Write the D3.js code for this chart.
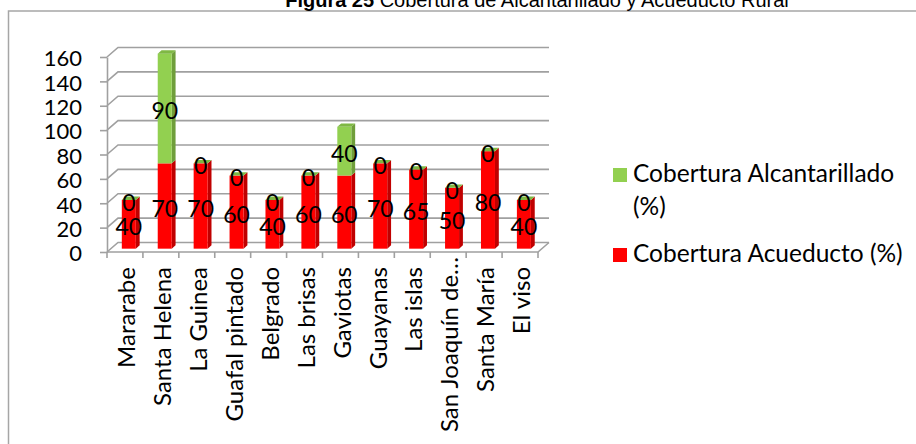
<!DOCTYPE html>
<html>
<head>
<meta charset="utf-8">
<script src="https://cdn.jsdelivr.net/npm/d3@7/dist/d3.min.js"></script>
<style>
  body { margin: 0; background: #fff; }
  svg { display: block; }
</style>
</head>
<body>
<svg id="chart" width="916" height="444"></svg>
<script>
// datos
const categories = ["Mararabe", "Santa Helena", "La Guinea", "Guafal pintado", "Belgrado", "Las brisas",
    "Gaviotas", "Guayanas", "Las islas", "San Joaquín de…", "Santa María", "El viso"];
const acueducto = [40, 70, 70, 60, 40, 60, 60, 70, 65, 50, 80, 40];
const alcantarillado = [0, 90, 0, 0, 0, 0, 40, 0, 0, 0, 0, 0];
const yTicks = [0, 20, 40, 60, 80, 100, 120, 140, 160];
const seriesNames = ["Cobertura Alcantarillado (%)", "Cobertura Acueducto (%)"];

const svg = d3.select("#chart");
const font = "Lato, 'Noto Sans', sans-serif";

// marco del grafico
svg.append("path")
    .attr("d", "M 8.5 460 L 8.5 11 L 930 11")
    .attr("fill", "none")
    .attr("stroke", "#a6a6a6")
    .attr("stroke-width", 1.5);

// titulo (cortado arriba como en el original)
let title = svg.append("text")
    .attr("x", 537)
    .attr("y", 6.5)
    .attr("text-anchor", "middle")
    .attr("font-family", "'Liberation Sans Narrow', 'Liberation Sans', Arial, sans-serif")
    .attr("font-size", 20);
title.append("tspan").attr("font-weight", "bold").text("Figura 25 ");
title.append("tspan").text("Cobertura de Alcantarillado y Acueducto Rural");

// escalas (plano frontal)
const x = d3.scaleBand().domain(categories).range([107, 538]).padding(0);
const y = d3.scaleLinear().domain([0, 160]).range([252, 57]);
const depth = [11, -9.5];   // vector de profundidad 3D
const barW = 14;
const f0 = 0.35, f1 = 0.7;   // posicion de la barra dentro de la profundidad

const grid = svg.append("g").attr("class", "grid");

// lineas de la pared trasera y lateral
yTicks.forEach(t => {
    let yf = y(t);
    grid.append("path")
        .attr("d", `M ${x.range()[0]} ${yf} L ${x.range()[0] + depth[0]} ${yf + depth[1]} L ${x.range()[1] + depth[0]} ${yf + depth[1]}`)
        .attr("fill", "none")
        .attr("stroke", "#a0a0a0")
        .attr("stroke-width", 1.6);
});
// piso
grid.append("path")
    .attr("d", `M ${x.range()[0]} ${y(0)} L ${x.range()[1]} ${y(0)} L ${x.range()[1] + depth[0]} ${y(0) + depth[1]}`)
    .attr("fill", "none")
    .attr("stroke", "#a0a0a0")
    .attr("stroke-width", 1.6);

// eje Y
const yAxis = svg.append("g")
    .attr("transform", `translate(${x.range()[0]},0)`)
    .call(d3.axisLeft(y).tickValues(yTicks).tickSize(7).tickSizeOuter(0).tickPadding(18));
yAxis.select(".domain").attr("stroke", "#a0a0a0").attr("stroke-width", 1.6);
yAxis.selectAll(".tick line").attr("stroke", "#a0a0a0").attr("stroke-width", 1.6);
yAxis.selectAll(".tick text")
    .attr("font-family", font)
    .attr("font-size", 22)
    .attr("fill", "#000")
    .attr("dy", "0.4em");

// marcas del eje X en los limites de cada categoria
const xEdges = categories.map(c => x(c)).concat([x.range()[1]]);
svg.append("g").selectAll("line")
    .data(xEdges)
    .join("line")
    .attr("x1", d => d).attr("x2", d => d)
    .attr("y1", y(0)).attr("y2", y(0) + 6)
    .attr("stroke", "#a0a0a0")
    .attr("stroke-width", 1.6);

// etiquetas del eje X (rotadas)
const xLabels = svg.append("g").selectAll("text")
    .data(categories)
    .join("text")
    .attr("font-family", font)
    .attr("font-size", 24)
    .attr("text-anchor", "end")
    .attr("dy", "0.38em")
    .text(d => d);
xLabels.each(function(d) {
    let len = this.getComputedTextLength();
    let yEnd = Math.min(267, 432 - len);
    let cx = x(d) + x.bandwidth() / 2 + 1;
    d3.select(this).attr("transform", `translate(${cx},${yEnd}) rotate(-90)`);
});

// barras 3D
const colors = {
    red: { front: "#ff0000", side: "#c00000", top: "#ff3b3b" },
    green: { front: "#92d050", side: "#6f9e3b", top: "#7fb844" }
};

function drawBox(g, x0, v0, v1, c, withTop) {
    let fx = x0 + f0 * depth[0], fy = f0 * depth[1];
    let dx = (f1 - f0) * depth[0], dy = (f1 - f0) * depth[1];
    let yb = y(v0) + fy, yt = y(v1) + fy;
    // lado
    g.append("path")
        .attr("d", `M ${fx + barW} ${yb} L ${fx + barW + dx} ${yb + dy} L ${fx + barW + dx} ${yt + dy} L ${fx + barW} ${yt} Z`)
        .attr("fill", c.side);
    // frente
    g.append("rect")
        .attr("x", fx).attr("y", yt)
        .attr("width", barW).attr("height", Math.max(0, yb - yt))
        .attr("fill", c.front);
    if (withTop) {
        g.append("path")
            .attr("d", `M ${fx} ${yt} L ${fx + dx} ${yt + dy} L ${fx + barW + dx} ${yt + dy} L ${fx + barW} ${yt} Z`)
            .attr("fill", c.top);
    }
}

const bars = svg.append("g").attr("class", "bars");
categories.forEach((c, i) => {
    let x0 = x(c) + (x.bandwidth() - barW) / 2;
    let g = bars.append("g");
    drawBox(g, x0, 0, acueducto[i], colors.red, false);
    drawBox(g, x0, acueducto[i], acueducto[i] + alcantarillado[i], colors.green, true);
});

// etiquetas de datos
const labels = svg.append("g")
    .attr("font-family", font)
    .attr("font-size", 23)
    .attr("text-anchor", "middle");
categories.forEach((c, i) => {
    let cx = x(c) + x.bandwidth() / 2 + f0 * depth[0];
    let off = f0 * depth[1] + 2.5;
    labels.append("text")
        .attr("x", cx)
        .attr("y", (y(0) + y(acueducto[i])) / 2 + off)
        .attr("dy", "0.36em")
        .text(acueducto[i]);
    labels.append("text")
        .attr("x", cx)
        .attr("y", (y(acueducto[i]) + y(acueducto[i] + alcantarillado[i])) / 2 + off)
        .attr("dy", "0.36em")
        .text(alcantarillado[i]);
});

// leyenda
const legend = svg.append("g")
    .attr("font-family", font)
    .attr("font-size", 24.5);
legend.append("rect").attr("x", 613).attr("y", 168).attr("width", 14).attr("height", 14).attr("fill", colors.green.front);
let t1 = legend.append("text").attr("x", 633).attr("y", 182);
t1.append("tspan").attr("x", 633).text("Cobertura Alcantarillado");
t1.append("tspan").attr("x", 633).attr("y", 215).text("(%)");
legend.append("rect").attr("x", 613).attr("y", 248).attr("width", 14).attr("height", 14).attr("fill", colors.red.front);
legend.append("text").attr("x", 633).attr("y", 262).text(seriesNames[1]);
</script>
</body>
</html>
